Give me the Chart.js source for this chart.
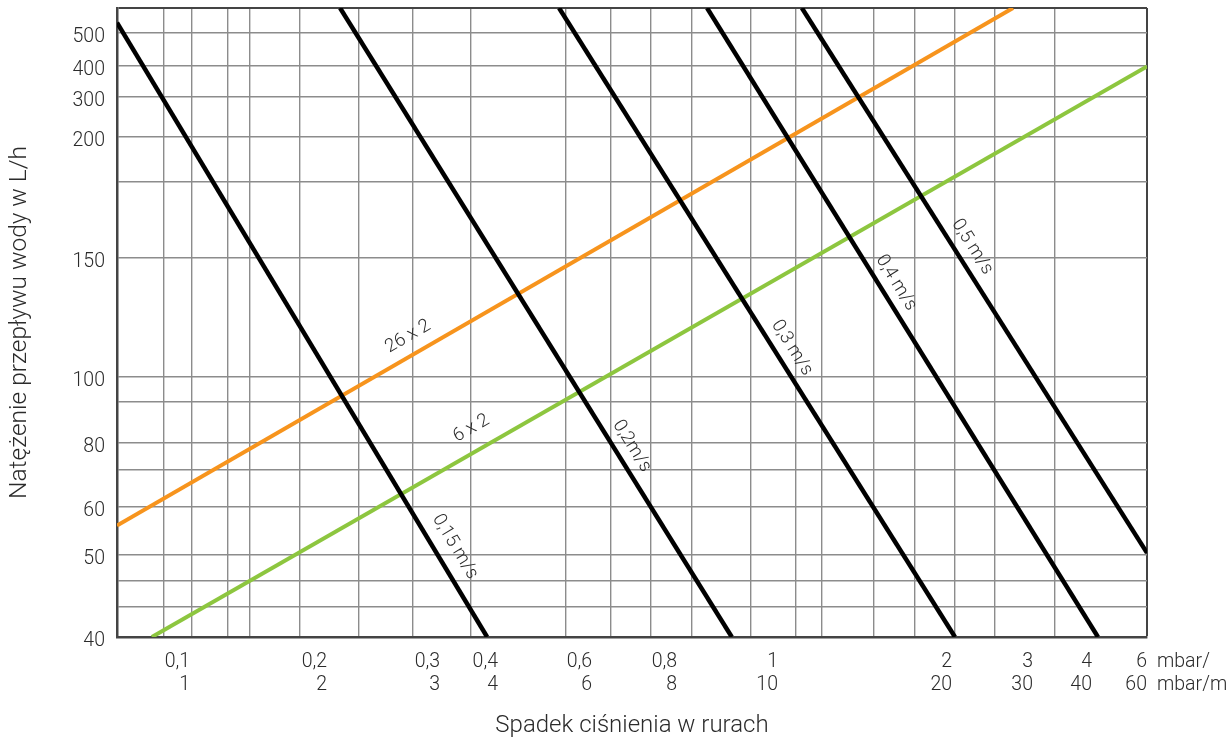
<!DOCTYPE html>
<html>
<head>
<meta charset="utf-8">
<script src="https://cdn.jsdelivr.net/npm/chart.js@4.4.1/dist/chart.umd.min.js"></script>
<style>
  html, body { margin: 0; padding: 0; background: #ffffff; }
  #c { display: block; }
</style>
</head>
<body>
<canvas id="c" width="1230" height="742"></canvas>
<script>
// ---------------- DATA ----------------
// x: pressure drop (top row mbar/, bottom row mbar/m)
const xTickValues       = [0.1, 0.2, 0.3, 0.4, 0.6, 0.8, 1, 2, 3, 4, 6];
const xTickLabelsTop    = ['0,1', '0,2', '0,3', '0,4', '0,6', '0,8', '1', '2', '3', '4', '6'];
const xTickLabelsBottom = ['1', '2', '3', '4', '6', '8', '10', '20', '30', '40', '60'];
const xGridValues = [0.088, 0.101, 0.121, 0.135, 0.174, 0.224, 0.272, 0.35, 0.536, 0.64,
                     0.733, 0.827, 0.942, 1.074, 1.19, 1.466, 1.726, 2.03, 2.48, 3.34];
const xMin = 0.07, xMax = 6;

// y: flow rate L/h
const yTickValues = [40, 50, 60, 80, 100, 150, 200, 300, 400, 500];
const yGridExtra  = [43.4, 46.6, 71, 92, 180];
const yMin = 40, yMax = 590;

// velocity lines (x = mbar/, y = L/h)
const vel015 = [{x: 0.07,   y: 535}, {x: 0.379, y: 40}];
const vel02  = [{x: 0.2096, y: 590}, {x: 0.903, y: 40}];
const vel03  = [{x: 0.5205, y: 590}, {x: 2.03,  y: 40}];
const vel04  = [{x: 0.855,  y: 590}, {x: 4.18,  y: 40}];
const vel05  = [{x: 1.10,   y: 590}, {x: 6,     y: 50.4}];
// pipe lines
const pipe26x2 = [{x: 0.07,  y: 55.9}, {x: 2.715, y: 590}];
const pipe6x2  = [{x: 0.083, y: 40},   {x: 6,     y: 398}];

// ---------------- SCALE (non-uniform nomogram axis) ----------------
const axisAnchors = {
  x: [[0.07, 0], [0.1, 0.0709], [0.2, 0.2039], [0.3, 0.3136], [0.4, 0.3699], [0.6, 0.4612],
      [0.8, 0.5437], [1, 0.6417], [2, 0.8107], [3, 0.8893], [4, 0.9466], [6, 1]],
  y: [[40, 0], [50, 0.1304], [60, 0.2067], [80, 0.3084], [100, 0.4134], [150, 0.6025],
      [200, 0.7949], [300, 0.8585], [400, 0.9078], [500, 0.9603], [590, 1]]
};
const axisTicks = {
  x: Array.from(new Set([...xGridValues, ...xTickValues, xMax])).sort((a, b) => a - b),
  y: Array.from(new Set([...yTickValues, ...yGridExtra, yMax])).sort((a, b) => a - b)
};

class NomogramScale extends Chart.Scale {
  determineDataLimits() { this.min = this.options.min; this.max = this.options.max; }
  buildTicks() { return axisTicks[this.id].map(v => ({value: v})); }
  getLabelForValue(v) { return String(v); }
  _dec(v) {
    const a = axisAnchors[this.id];
    let i = 0;
    while (i < a.length - 2 && v > a[i + 1][0]) i++;
    const l0 = Math.log10(a[i][0]), l1 = Math.log10(a[i + 1][0]);
    return a[i][1] + (Math.log10(v) - l0) / (l1 - l0) * (a[i + 1][1] - a[i][1]);
  }
  getPixelForValue(v) { return this.getPixelForDecimal(this._dec(v)); }
  getValueForPixel(p) {
    const d = this.getDecimalForPixel(p);
    const a = axisAnchors[this.id];
    let i = 0;
    while (i < a.length - 2 && d > a[i + 1][1]) i++;
    const l0 = Math.log10(a[i][0]), l1 = Math.log10(a[i + 1][0]);
    return Math.pow(10, l0 + (d - a[i][1]) / (a[i + 1][1] - a[i][1]) * (l1 - l0));
  }
}
NomogramScale.id = 'nomogram';
NomogramScale.defaults = {};
Chart.register(NomogramScale);

const FONT = 'Roboto';
const TEXT = '#2b2b2b';
const GRID = '#8c8c8c';
const FRAME = '#444444';
const TICK_SIZE = 19.5;
const TICK_LH = 1.2;
const TICK_PAD = 13;

// ---------------- PLUGINS ----------------
const lineLabelPlugin = {
  id: 'lineLabels',
  afterDatasetsDraw(chart) {
    const ctx = chart.ctx;
    chart.data.datasets.forEach((ds, i) => {
      if (!ds.labelText) return;
      const pts = chart.getDatasetMeta(i).data;
      const a = pts[0], b = pts[pts.length - 1];
      const dx = b.x - a.x, dy = b.y - a.y, len = Math.hypot(dx, dy);
      const px = a.x + dx * ds.labelAt + (-dy / len) * ds.labelShift;
      const py = a.y + dy * ds.labelAt + (dx / len) * ds.labelShift;
      ctx.save();
      ctx.translate(px, py);
      ctx.rotate(Math.atan2(dy, dx));
      ctx.font = '300 18.5px ' + FONT;
      ctx.fillStyle = TEXT;
      ctx.textAlign = 'center';
      ctx.textBaseline = 'middle';
      ctx.fillText(ds.labelText, 0, 0);
      ctx.restore();
    });
  }
};

const unitPlugin = {
  id: 'units',
  afterDraw(chart) {
    const s = chart.scales.x;
    const ctx = chart.ctx;
    const lh = TICK_SIZE * TICK_LH;
    const y0 = s.top + TICK_PAD + lh / 2;
    ctx.save();
    ctx.font = '300 ' + TICK_SIZE + 'px ' + FONT;
    ctx.fillStyle = TEXT;
    ctx.textAlign = 'left';
    ctx.textBaseline = 'middle';
    ctx.fillText('mbar/', s.right + 10, y0);
    ctx.fillText('mbar/m', s.right + 10, y0 + lh);
    ctx.restore();
  }
};

// ---------------- CHART ----------------
const blackLine = (label, data, text, at, shift) => ({
  label, data, labelText: text, labelAt: at, labelShift: shift,
  borderColor: '#000000', borderWidth: 4.5, pointRadius: 0, fill: false, tension: 0
});
const colorLine = (label, data, color, text, at, shift) => ({
  label, data, labelText: text, labelAt: at, labelShift: shift,
  borderColor: color, borderWidth: 4, pointRadius: 0, fill: false, tension: 0
});

new Chart(document.getElementById('c'), {
  type: 'line',
  data: {
    datasets: [
      blackLine('0,15 m/s', vel015, '0,15 m/s', 0.869, -19),
      blackLine('0,2 m/s',  vel02,  '0,2m/s',   0.71,  -16),
      blackLine('0,3 m/s',  vel03,  '0,3 m/s',  0.554, -16),
      blackLine('0,4 m/s',  vel04,  '0,4 m/s',  0.45,  -15.5),
      blackLine('0,5 m/s',  vel05,  '0,5 m/s',  0.454, -16),
      colorLine('26 x 2', pipe26x2, '#F7941D', '26 x 2', 0.335, -18),
      colorLine('6 x 2',  pipe6x2,  '#8DC63F', '6 x 2',  0.332, -22)
    ]
  },
  options: {
    responsive: false,
    animation: false,
    events: [],
    layout: { padding: { top: 8, right: 83, bottom: 0, left: 0 } },
    plugins: { legend: { display: false }, tooltip: { enabled: false } },
    scales: {
      x: {
        type: 'nomogram',
        position: 'bottom',
        min: xMin, max: xMax,
        afterFit(s) { s.height = 105; s.paddingLeft = 0; s.paddingRight = 0; s.paddingTop = 0; s.paddingBottom = 0; },
        grid: {
          drawTicks: false,
          color: c => c.tick && c.tick.value === xMax ? FRAME : (xGridValues.includes(c.tick && c.tick.value) ? GRID : 'rgba(0,0,0,0)'),
          lineWidth: c => c.tick && c.tick.value === xMax ? 2 : 1.4
        },
        border: { display: true, color: FRAME, width: 2.5 },
        ticks: {
          autoSkip: false, maxRotation: 0, minRotation: 0, align: 'end', padding: TICK_PAD,
          color: TEXT,
          font: { family: FONT, size: TICK_SIZE, weight: '300', lineHeight: TICK_LH },
          callback: v => {
            const i = xTickValues.indexOf(v);
            return i < 0 ? '' : [xTickLabelsTop[i], xTickLabelsBottom[i]];
          }
        },
        title: {
          display: true, text: 'Spadek ciśnienia w rurach', color: TEXT,
          font: { family: FONT, size: 24, weight: '300', lineHeight: 1.2 },
          padding: { top: 0, bottom: 1.6 }
        }
      },
      y: {
        type: 'nomogram',
        position: 'left',
        min: yMin, max: yMax,
        afterFit(s) { s.width = 117; s.paddingLeft = 0; s.paddingRight = 0; s.paddingTop = 0; s.paddingBottom = 0; },
        grid: {
          drawTicks: false,
          color: c => c.tick && c.tick.value === yMax ? FRAME : GRID,
          lineWidth: c => c.tick && c.tick.value === yMax ? 2 : 1.4
        },
        border: { display: true, color: FRAME, width: 2.5 },
        ticks: {
          autoSkip: false, padding: 12, labelOffset: 4,
          color: TEXT,
          font: { family: FONT, size: TICK_SIZE, weight: '300' },
          callback: v => (yTickValues.includes(v) ? String(v) : '')
        },
        title: {
          display: true, text: 'Natężenie przepływu wody w L/h', color: TEXT,
          font: { family: FONT, size: 24.5, weight: '300', lineHeight: 1.2 },
          padding: { top: 5.5, bottom: 0 }
        }
      }
    }
  },
  plugins: [lineLabelPlugin, unitPlugin]
});
</script>
</body>
</html>
